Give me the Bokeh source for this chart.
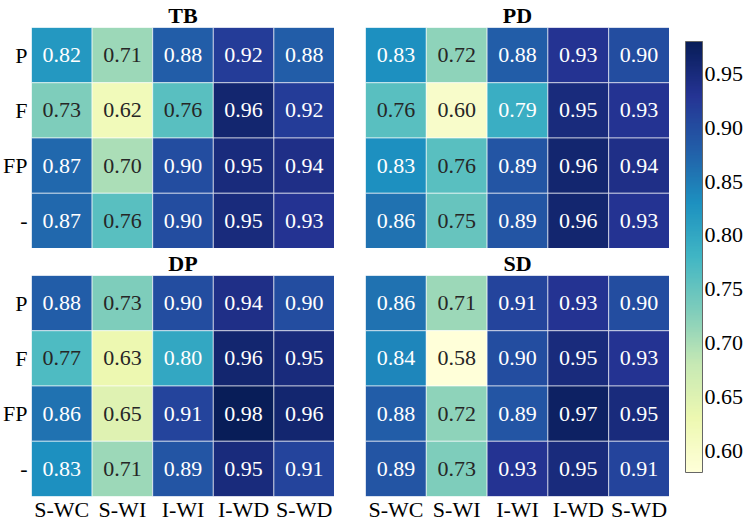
import numpy as np
from bokeh.plotting import figure
from bokeh.models import (ColumnDataSource, LinearColorMapper, ColorBar, FixedTicker,
                          PrintfTickFormatter, FactorRange)
from bokeh.layouts import row, column
from bokeh.transform import transform
from bokeh.core.properties import value
from bokeh.embed import file_html
from bokeh.resources import INLINE

# ---- data ----
metrics = ["S-WC", "S-WI", "I-WI", "I-WD", "S-WD"]
settings = ["P", "F", "FP", "-"]

tb_vals = [[0.82, 0.71, 0.88, 0.92, 0.88],
           [0.73, 0.62, 0.76, 0.96, 0.92],
           [0.87, 0.70, 0.90, 0.95, 0.94],
           [0.87, 0.76, 0.90, 0.95, 0.93]]
pd_vals = [[0.83, 0.72, 0.88, 0.93, 0.90],
           [0.76, 0.60, 0.79, 0.95, 0.93],
           [0.83, 0.76, 0.89, 0.96, 0.94],
           [0.86, 0.75, 0.89, 0.96, 0.93]]
dp_vals = [[0.88, 0.73, 0.90, 0.94, 0.90],
           [0.77, 0.63, 0.80, 0.96, 0.95],
           [0.86, 0.65, 0.91, 0.98, 0.96],
           [0.83, 0.71, 0.89, 0.95, 0.91]]
sd_vals = [[0.86, 0.71, 0.91, 0.93, 0.90],
           [0.84, 0.58, 0.90, 0.95, 0.93],
           [0.88, 0.72, 0.89, 0.97, 0.95],
           [0.89, 0.73, 0.93, 0.95, 0.91]]
panel_titles = ["TB", "PD", "DP", "SD"]
cbar_ticks = [0.60, 0.65, 0.70, 0.75, 0.80, 0.85, 0.90, 0.95]

# ---- colormap (YlGnBu, linear segments as in matplotlib) ----
ylgnbu = ['#ffffd9', '#edf8b1', '#c7e9b4', '#7fcdbb', '#41b6c4',
          '#1d91c0', '#225ea8', '#253494', '#081d58']
def hex2rgb(h):
    return np.array([int(h[i:i + 2], 16) for i in (1, 3, 5)], dtype=float)
anchors = np.array([hex2rgb(c) for c in ylgnbu])
pos = np.linspace(0, 1, len(ylgnbu))
t = np.linspace(0, 1, 256)
rgb = np.stack([np.interp(t, pos, anchors[:, k]) for k in range(3)], axis=1)
palette = ['#%02x%02x%02x' % tuple(int(round(v)) for v in c) for c in rgb]

all_vals = np.array([tb_vals, pd_vals, dp_vals, sd_vals])
vmin, vmax = float(all_vals.min()), float(all_vals.max())
mapper = LinearColorMapper(palette=palette, low=vmin, high=vmax)

def lum_of(v):
    f = (v - vmin) / (vmax - vmin)
    idx = int(np.clip(np.floor(f * 256), 0, 255))
    c = rgb[idx] / 255.0
    c = np.where(c <= 0.03928, c / 12.92, ((c + 0.055) / 1.055) ** 2.4)
    return 0.2126 * c[0] + 0.7152 * c[1] + 0.0722 * c[2]

FONT = "Liberation Serif"
FS = "22px"

def heat(vals, title, show_y, show_x, width, height, left, top, bottom):
    xs, ys, vs, ts, cs = [], [], [], [], []
    for i, r in enumerate(settings):
        for j, m in enumerate(metrics):
            v = vals[i][j]
            xs.append(m); ys.append(r); vs.append(v)
            ts.append("%.2f" % v)
            cs.append("#262626" if lum_of(v) > 0.408 else "#ffffff")
    src = ColumnDataSource(dict(x=xs, y=ys, v=vs, t=ts, c=cs))
    p = figure(x_range=FactorRange(*metrics), y_range=FactorRange(*settings[::-1]),
               width=width, height=height, output_backend="svg", toolbar_location=None,
               x_axis_location="below" if show_x else None,
               y_axis_location="left" if show_y else None,
               min_border_left=left, min_border_right=0,
               min_border_top=top, min_border_bottom=bottom,
               title=title)
    p.rect(x="x", y="y", width=1, height=1, source=src,
           fill_color=transform("v", mapper), line_color="white",
           line_alpha=0.6, line_width=1)
    p.text(x="x", y="y", text="t", source=src, text_color="c",
           text_align="center", text_baseline="middle",
           text_font=value(FONT), text_font_size=FS)
    p.grid.visible = False
    p.outline_line_color = None
    p.background_fill_color = "white"
    p.title.align = "center"
    p.title.text_font = FONT
    p.title.text_font_style = "bold"
    p.title.text_font_size = FS
    p.title.text_color = "black"
    p.title.text_line_height = 0.8
    p.title.standoff = 0
    p.title.offset = 0
    for ax in p.axis:
        ax.axis_line_color = None
        ax.major_tick_line_color = None
        ax.minor_tick_line_color = None
        ax.major_tick_out = 0
        ax.major_tick_in = 0
        ax.major_label_text_font = FONT
        ax.major_label_text_font_size = FS
        ax.major_label_text_color = "black"
    if show_x:
        p.xaxis.major_label_standoff = 0
    if show_y:
        p.yaxis.major_label_standoff = 4
    return p

p_tb = heat(tb_vals, panel_titles[0], True, False, 334, 248, 31, 0, 0)
p_pd = heat(pd_vals, panel_titles[1], False, False, 335, 248, 31, 0, 0)
p_dp = heat(dp_vals, panel_titles[2], True, True, 334, 276, 31, 0, 26)
p_sd = heat(sd_vals, panel_titles[3], False, True, 335, 276, 31, 0, 26)

cb_fig = figure(width=78, height=524, output_backend="svg", toolbar_location=None,
                x_axis_location=None, y_axis_location=None,
                min_border_left=16, min_border_right=0,
                min_border_top=41, min_border_bottom=52)
cb_fig.grid.visible = False
cb_fig.outline_line_color = None
cb = ColorBar(color_mapper=mapper, location="top_left", margin=0, padding=0,
              width=17, height=431,
              ticker=FixedTicker(ticks=cbar_ticks),
              formatter=PrintfTickFormatter(format="%.2f"),
              major_tick_line_color=None, minor_tick_line_color=None,
              major_tick_in=0, major_tick_out=0, label_standoff=2,
              bar_line_color="#666666", bar_line_width=1,
              major_label_text_font=FONT, major_label_text_font_size=FS,
              major_label_text_color="black", background_fill_alpha=0)
cb_fig.add_layout(cb)

layout = row(column(row(p_tb, p_pd), row(p_dp, p_sd)), cb_fig)

open("out.html", "w").write(file_html(layout, INLINE))
